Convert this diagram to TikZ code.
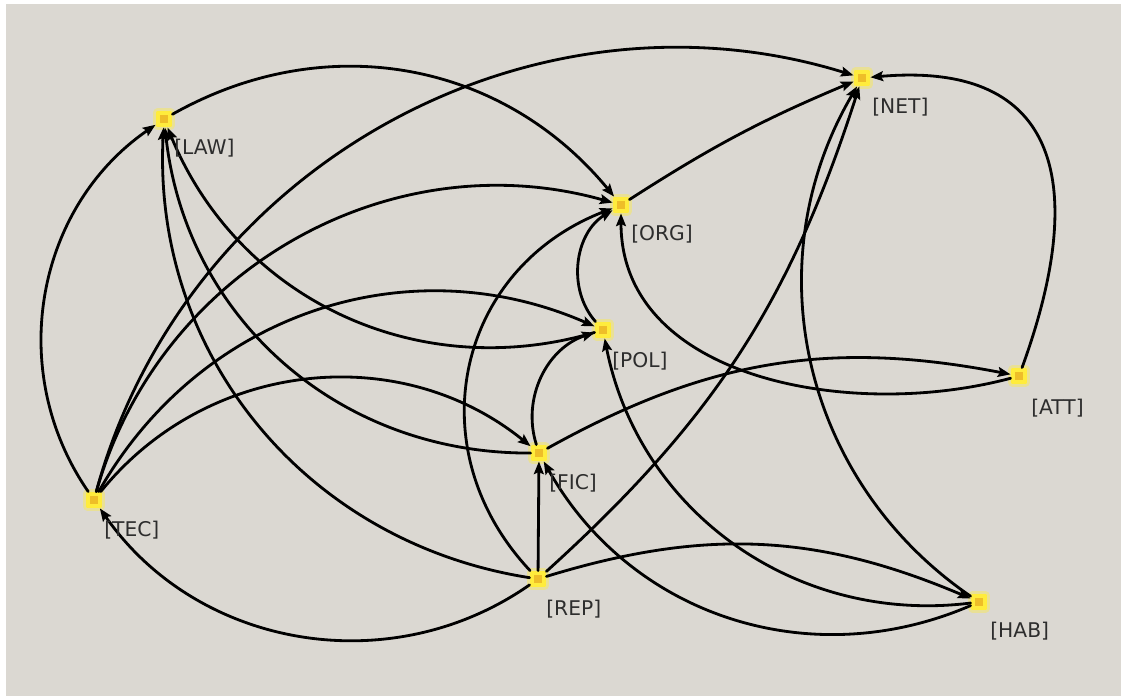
\documentclass[tikz,border=0pt]{standalone}
\usepackage{fontspec}
\setmainfont{DejaVu Sans}
\usetikzlibrary{arrows.meta}
\definecolor{bggray}{RGB}{219,216,210}
\definecolor{dotcore}{RGB}{238,190,40}
\definecolor{dotring}{RGB}{255,236,60}
\definecolor{tagtext}{RGB}{45,45,45}
\tikzset{
	dot/.style={rectangle,draw=dotring,fill=dotcore,line width=3pt,minimum size=9pt,inner sep=0pt,
		preaction={draw=dotring!40!bggray,line width=6pt}},
	tag/.style={anchor=north west,inner sep=0pt,text=tagtext,font=\fontsize{14.4}{16}\selectfont},
	link/.style={->,line width=2pt,black}
}
\begin{document}
\begin{tikzpicture}[x=0.025cm,y=0.025cm,line join=round,line cap=round,>={Stealth[length=9pt,width=7pt,inset=1.5pt]}]
		\useasboundingbox (0,0) rectangle (1124,698);
		\fill[white] (0,0) rectangle (1124,698);
		\fill[bggray] (6,2) rectangle (1121,694);
		% the nine concepts
		\node[dot] (law) at (164,579) {};
		\node[dot] (net) at (862,620) {};
		\node[dot] (org) at (621,493) {};
		\node[dot] (pol) at (603,368) {};
		\node[dot] (att) at (1019,322) {};
		\node[dot] (fic) at (539,245) {};
		\node[dot] (tec) at (94,198) {};
		\node[dot] (rep) at (538,119) {};
		\node[dot] (hab) at (979,96) {};
		% influences
		\draw[link] (tec) to[bend left=45] (law);
		\draw[link] (tec) to[bend left=46] (net);
		\draw[link] (tec) to[bend left=45] (org);
		\draw[link] (tec) to[bend left=42] (pol);
		\draw[link] (tec) to[bend left=45] (fic);
		\draw[link] (law) to[bend left=40] (org);
		\draw[link] (org) to[bend left=5] (net);
		\draw[link] (att) to[out=70,in=5,looseness=1.5] (net);
		\draw[link] (att) to[out=195,in=270] (org);
		\draw[link] (rep) to[bend left=45] (tec);
		\draw[link] (rep) to[bend left=42] (law);
		\draw[link] (rep) to[bend left=56,looseness=1.15] (org);
		\draw[link] (rep) -- (fic);
		\draw[link] (rep) to[bend right=15] (net);
		\draw[link] (rep) to[bend left=20] (hab);
		\draw[link] (fic) to[bend left=42] (law);
		\draw[link] (fic) to[bend left=45] (pol);
		\draw[link] (fic) to[bend left=20] (att);
		\draw[link] (pol) to[bend left=42] (law);
		\draw[link] (pol) to[bend left=50] (org);
		\draw[link] (hab) to[bend left=43] (net);
		\draw[link] (hab) to[bend left=43] (pol);
		\draw[link] (hab) to[bend left=42] (fic);
		% names
		\node[tag] at ([shift={(10,-20)}]law) {[LAW]};
		\node[tag] at ([shift={(10,-20)}]net) {[NET]};
		\node[tag] at ([shift={(10,-20)}]org) {[ORG]};
		\node[tag] at ([shift={(9,-22)}]pol) {[POL]};
		\node[tag] at ([shift={(12,-23)}]att) {[ATT]};
		\node[tag] at ([shift={(10,-21)}]fic) {[FIC]};
		\node[tag] at ([shift={(10,-21)}]tec) {[TEC]};
		\node[tag] at ([shift={(8,-21)}]rep) {[REP]};
		\node[tag] at ([shift={(11,-20)}]hab) {[HAB]};
\end{tikzpicture}
\end{document}
